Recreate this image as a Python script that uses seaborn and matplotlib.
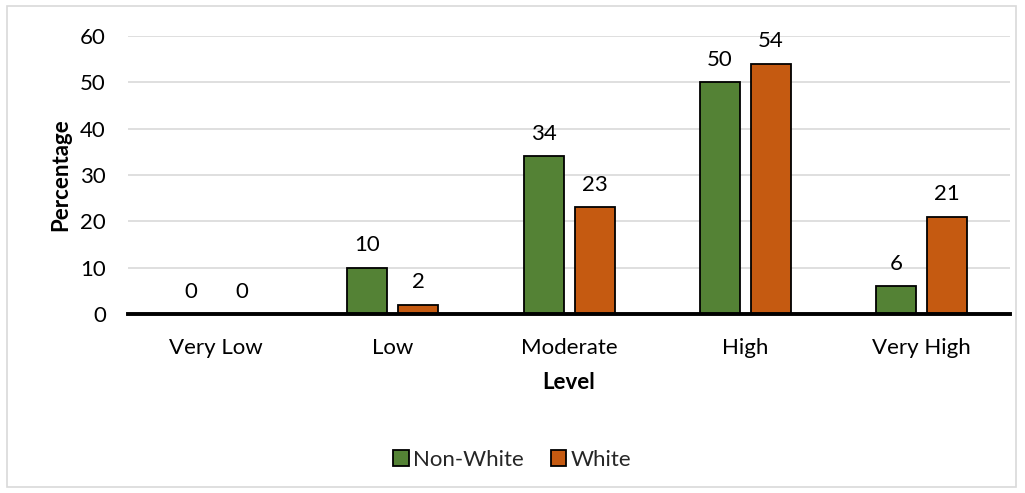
import matplotlib
matplotlib.use("Agg")
import matplotlib.pyplot as plt
from matplotlib.patches import Rectangle
import pandas as pd
import seaborn as sns

levels = ["Very Low", "Low", "Moderate", "High", "Very High"]
non_white = [0, 10, 34, 50, 6]
white = [0, 2, 23, 54, 21]
groups = ["Non-White", "White"]
colors = {"Non-White": "#548235", "White": "#C55A11"}

df = pd.DataFrame({
    "Level": levels * 2,
    "Group": [groups[0]] * len(levels) + [groups[1]] * len(levels),
    "Percentage": non_white + white,
})

sns.set_theme(style="white")
plt.rcParams["font.family"] = ["Lato", "DejaVu Sans"]
FS = 16

fig = plt.figure(figsize=(10.25, 4.93), dpi=100)
ax = fig.add_axes([0.1249, 0.363, 0.8605, 0.564])

sns.barplot(data=df, x="Level", y="Percentage", hue="Group", order=levels,
            hue_order=groups, palette=colors, saturation=1, width=0.578, gap=0.215,
            edgecolor="black", linewidth=1.3, ax=ax, legend=False, zorder=3)

ax.set_ylim(0, 60)
ax.set_xlim(-0.5, len(levels) - 0.5)
ax.set_yticks(range(0, 61, 10))
ax.yaxis.grid(True, color="#d9d9d9", linewidth=1.2, zorder=0)
ax.set_axisbelow(True)
for s in ["top", "right", "left"]:
    ax.spines[s].set_visible(False)
ax.spines["bottom"].set_color("black")
ax.spines["bottom"].set_linewidth(2.8)
ax.spines["bottom"].set_zorder(5)
ax.tick_params(axis="both", length=0, labelsize=FS, colors="black")
ax.tick_params(axis="x", pad=17)
ax.tick_params(axis="y", pad=16)

for container in ax.containers:
    ax.bar_label(container, labels=[f"{v:.0f}" for v in container.datavalues],
                 padding=9, fontsize=FS, color="black")

ax.set_xlabel("Level", fontsize=FS, fontweight="bold", color="black", labelpad=10)
ax.set_ylabel("Percentage", fontsize=FS, fontweight="bold", color="black", labelpad=6)

handles = [Rectangle((0, 0), 1, 1, facecolor=colors[g], edgecolor="black", linewidth=1.3)
           for g in groups]
fig.legend(handles, groups, loc="center", bbox_to_anchor=(0.5, 0.067), ncol=2,
           frameon=False, fontsize=FS, handlelength=0.7, handleheight=0.7,
           handletextpad=0.2, columnspacing=1.2)

fig.add_artist(Rectangle((0.007, 0.012), 0.984, 0.975, transform=fig.transFigure,
                         fill=False, edgecolor="#d9d9d9", linewidth=1.2))

fig.savefig("out.png", dpi=100)
